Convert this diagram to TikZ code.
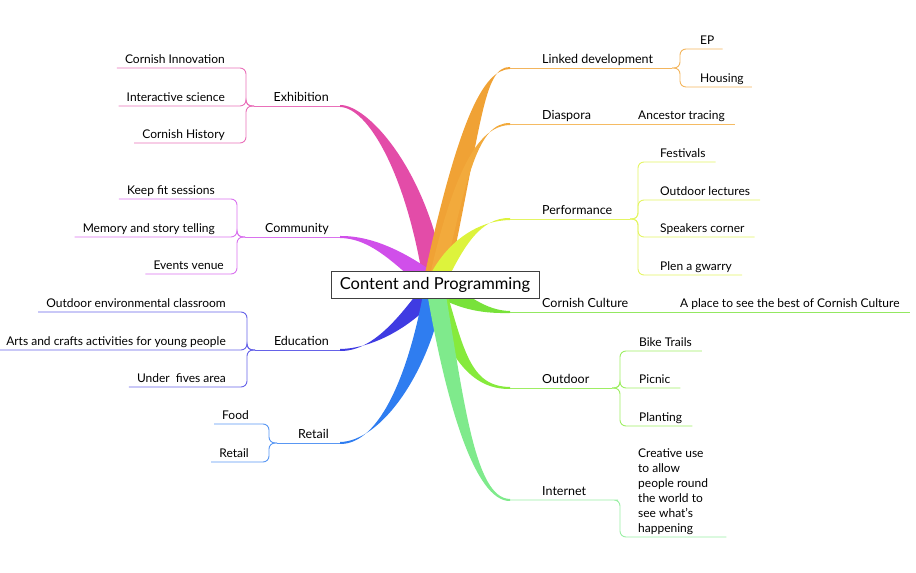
\documentclass[tikz,border=0pt]{standalone}
\usepackage{fontspec}
\setmainfont{Lato}
\usetikzlibrary{positioning,calc}

\definecolor{exhcol}{HTML}{E34CA8}
\definecolor{comcol}{HTML}{D04FEA}
\definecolor{educol}{HTML}{3F3BE2}
\definecolor{retcol}{HTML}{2F7DF0}
\definecolor{lnkcol}{HTML}{F0A235}
\definecolor{diacol}{HTML}{F2AA3C}
\definecolor{percol}{HTML}{DDF33C}
\definecolor{culcol}{HTML}{78E23A}
\definecolor{outcol}{HTML}{86EA3C}
\definecolor{intcol}{HTML}{7FEA8C}

\tikzset{
  root/.style={draw=black!75, fill=white, line width=0.8pt, minimum width=208pt,
    minimum height=27pt, inner sep=0pt, font=\fontsize{16.5}{18}\selectfont},
  topic/.style={inner sep=0pt, text height=9pt, text depth=2pt,
    font=\fontsize{12.5}{14}\selectfont},
  leaf/.style={inner sep=0pt, text height=9pt, text depth=2pt,
    font=\fontsize{12}{14}\selectfont},
  twig/.style={line width=0.9pt, rounded corners=6pt, draw=#1!80!white},
}

\newcommand{\ribbon}[5]{%
  \fill[#1] ($(c)+#2$) .. controls ($#3+#2$) and ($(#5)+(#4,1.5)$) .. ($(#5)+(0,1)$)
    -- ($(#5)+(0,-1)$) .. controls ($(#5)+(#4,-1.5)$) and ($#3-#2$) .. ($(c)-#2$) -- cycle;}

\begin{document}
\begin{tikzpicture}[x=1pt,y=1pt]
\useasboundingbox (0,0) rectangle (916,573);

\coordinate (c) at (435,288);
\coordinate (exh-e) at (340,467); \coordinate (exh-f) at (254,467);
\coordinate (com-e) at (340,336); \coordinate (com-f) at (245,336);
\coordinate (edu-e) at (340,223); \coordinate (edu-f) at (255,223);
\coordinate (ret-e) at (340,130); \coordinate (ret-f) at (277,130);
\coordinate (lnk-e) at (510,505); \coordinate (lnk-f) at (672,505);
\coordinate (dia-e) at (510,449);
\coordinate (per-e) at (510,354); \coordinate (per-f) at (630,354);
\coordinate (cul-e) at (510,261);
\coordinate (out-e) at (510,185); \coordinate (out-f) at (612,185);
\coordinate (int-e) at (510,73);  \coordinate (int-f) at (612,73);

\ribbon{exhcol}{(11,1.5)}{(418,400)}{28}{exh-e}
\ribbon{comcol}{(5,8)}{(405,310)}{35}{com-e}
\ribbon{educol}{(7,-6)}{(410,255)}{35}{edu-e}
\ribbon{retcol}{(10,-1.5)}{(420,200)}{40}{ret-e}
\ribbon{lnkcol}{(12,-2.5)}{(470,450)}{-27}{lnk-e}
\ribbon{diacol}{(7,-1.5)}{(460,400)}{-32}{dia-e}
\ribbon{percol}{(8,-4)}{(455,330)}{-30}{per-e}
\ribbon{culcol}{(4,8)}{(465,270)}{-25}{cul-e}
\ribbon{outcol}{(9,2.5)}{(455,220)}{-40}{out-e}
\ribbon{intcol}{(9,1.5)}{(455,170)}{-35}{int-e}

\node[root] (root) at (c) {Content and Programming};

\node[topic, above left=2.5pt and 11pt of exh-e] (exh) {Exhibition};
\node[topic, above left=2.5pt and 11pt of com-e] (com) {Community};
\node[topic, above left=2.5pt and 11pt of edu-e] (edu) {Education};
\node[topic, above left=2.5pt and 11pt of ret-e] (ret) {Retail};
\node[topic, above right=2.5pt and 32pt of lnk-e] (lnk) {Linked development};
\node[topic, above right=2.5pt and 32pt of dia-e] (dia) {Diaspora};
\node[topic, above right=2.5pt and 32pt of per-e] (per) {Performance};
\node[topic, above right=2.5pt and 32pt of cul-e] (cul) {Cornish Culture};
\node[topic, above right=2.5pt and 32pt of out-e] (out) {Outdoor};
\node[topic, above right=2.5pt and 32pt of int-e] (int) {Internet};

\node[leaf, anchor=base east] (ci) at (225,509.5) {Cornish Innovation};
\node[leaf, anchor=base east] (is) at (225,471.5) {Interactive science};
\node[leaf, anchor=base east] (ch) at (225,434.5) {Cornish History};
\node[leaf, anchor=base east] (kf) at (215,378.5) {Keep fit sessions};
\node[leaf, anchor=base east] (ms) at (215,340.5) {Memory and story telling};
\node[leaf, anchor=base east] (ev) at (224,303.5) {Events venue};
\node[leaf, anchor=base east] (oe) at (226,265.5) {Outdoor environmental classroom};
\node[leaf, anchor=base east] (ac) at (226,227.5) {Arts and crafts activities for young people};
\node[leaf, anchor=base east] (uf) at (226,190.5) {Under\ \ fives area};
\node[leaf, anchor=base east] (fo) at (249,153.5) {Food};
\node[leaf, anchor=base east] (rt) at (249,115.5) {Retail};

\node[leaf, anchor=base west] (ep) at (700,528.5) {EP};
\node[leaf, anchor=base west] (ho) at (700,490.5) {Housing};
\node[leaf, anchor=base west] (an) at (638,453.5) {Ancestor tracing};
\node[leaf, anchor=base west] (fe) at (660,415.5) {Festivals};
\node[leaf, anchor=base west] (ol) at (660,377.5) {Outdoor lectures};
\node[leaf, anchor=base west] (sc) at (660,340.5) {Speakers corner};
\node[leaf, anchor=base west] (pg) at (660,302.5) {Plen a gwarry};
\node[leaf, anchor=base west] (pl) at (680,265.5) {A place to see the best of Cornish Culture};
\node[leaf, anchor=base west] (bt) at (639,226.5) {Bike Trails};
\node[leaf, anchor=base west] (pc) at (639,189.5) {Picnic};
\node[leaf, anchor=base west] (pt) at (639,151.5) {Planting};
\node[inner sep=0pt, align=left, anchor=south west, font=\fontsize{12}{15}\selectfont]
  (cu) at (638,38) {Creative use\\to allow\\people round\\the world to\\see what's\\happening};

\draw[twig=exhcol] (exh-e) -- (exh-f);
\foreach \k in {ci,is,ch}
  \draw[twig=exhcol] (exh-f) -- ++(-8,0) |- ($(\k.base west)+(-8,-4.5)$);
\draw[twig=comcol] (com-e) -- (com-f);
\foreach \k in {kf,ms,ev}
  \draw[twig=comcol] (com-f) -- ++(-8,0) |- ($(\k.base west)+(-8,-4.5)$);
\draw[twig=educol] (edu-e) -- (edu-f);
\foreach \k in {oe,ac,uf}
  \draw[twig=educol] (edu-f) -- ++(-8,0) |- ($(\k.base west)+(-8,-4.5)$);
\draw[twig=retcol] (ret-e) -- (ret-f);
\foreach \k in {fo,rt}
  \draw[twig=retcol] (ret-f) -- ++(-8,0) |- ($(\k.base west)+(-8,-4.5)$);

\draw[twig=lnkcol] (lnk-e) -- (lnk-f);
\foreach \k in {ep,ho}
  \draw[twig=lnkcol] (lnk-f) -- ++(8,0) |- ($(\k.base east)+(8,-4.5)$);
\draw[twig=diacol] (dia-e) -- ($(an.base east)+(10,-4.5)$);
\draw[twig=percol] (per-e) -- (per-f);
\foreach \k in {fe,ol,sc,pg}
  \draw[twig=percol] (per-f) -- ++(8,0) |- ($(\k.base east)+(10,-4.5)$);
\draw[twig=culcol] (cul-e) -- ($(pl.base east)+(10,-4.5)$);
\draw[twig=outcol] (out-e) -- (out-f);
\foreach \k in {bt,pc,pt}
  \draw[twig=outcol] (out-f) -- ++(8,0) |- ($(\k.base east)+(10,-4.5)$);
\draw[twig=intcol] (int-e) -- (int-f) -- ++(8,0) |- ($(cu.south east)+(18,-2)$);
\end{tikzpicture}
\end{document}
